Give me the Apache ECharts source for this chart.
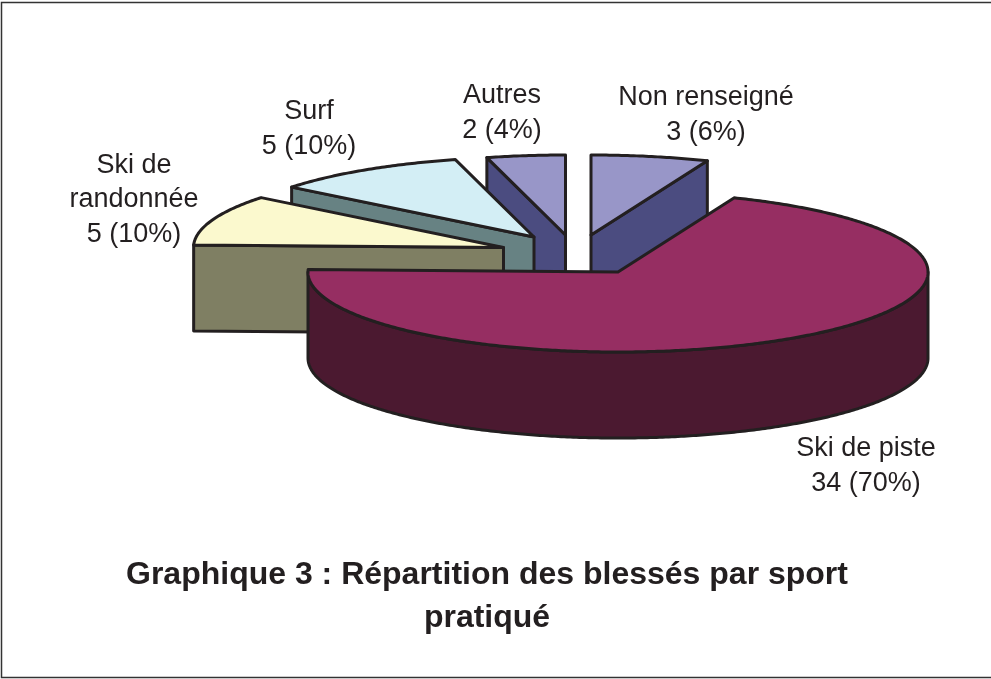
<!DOCTYPE html>
<html>
<head>
<meta charset="utf-8">
<title>Graphique 3</title>
<script src="https://cdn.jsdelivr.net/npm/echarts@6/dist/echarts.min.js"></script>
<style>
  html, body { margin: 0; padding: 0; background: #fff; }
  #chart { width: 991px; height: 679px; }
</style>
</head>
<body>
<div id="chart"></div>
<script>
// Chart values, clockwise from 12 o'clock
const names    = ['Non renseigné', 'Ski de piste', 'Ski de\nrandonnée', 'Surf', 'Autres']
const counts   = [3, 34, 5, 5, 2]
const percents = [6, 70, 10, 10, 4]

// Look of each slice
const topColors  = ['#9896C8', '#962E62', '#FBF9CE', '#D3EEF5', '#9896C8']
const sideColors = ['#4B4C80', '#4B1930', '#7F7F63', '#678283', '#4B4C80']
const centerX    = [591, 618, 503.5, 534, 565.5]
const centerY    = [235, 272, 247.5, 237, 235]
const labelX     = [706, 866, 134, 309, 502]
const labelY     = [115, 466, 200, 129, 113]
const drawOrder  = [0, 4, 3, 2, 1] // painter's order, back to front

const RX = 310, RY = 80, DEPTH = 86
const INK = '#231F20'
const total = counts.reduce((a, b) => a + b, 0)

const startAngle = (idx) => {
  let sum = 0
  for (let i = 0; i < idx; i++) sum += counts[i]
  return sum / total * Math.PI * 2
}

const arcPoints = (cx, cy, from, to, dy) => {
  const pts = []
  const steps = Math.max(2, Math.ceil((to - from) / 0.01))
  for (let i = 0; i <= steps; i++) {
    const a = from + (to - from) * i / steps
    pts.push([cx + RX * Math.sin(a), cy - RY * Math.cos(a) + dy])
  }
  return pts
}

const face = (points, fill, z2) => ({
  type: 'polygon',
  shape: { points },
  z2,
  style: { fill, stroke: INK, lineWidth: 3, lineJoin: 'round' },
})

const cutFace = (cx, cy, a, fill, z2) => {
  const p = [cx + RX * Math.sin(a), cy - RY * Math.cos(a)]
  return face([[cx, cy], p, [p[0], p[1] + DEPTH], [cx, cy + DEPTH]], fill, z2)
}

function renderSlice(params, api) {
  const i = params.dataIndex
  const value = api.value(0)
  const from = startAngle(i)
  const to = from + value / total * Math.PI * 2
  const cx = centerX[i], cy = centerY[i]
  const z = drawOrder.indexOf(i) * 10
  const children = []

  // cut faces that look toward the viewer
  if (Math.sin(from) < 0) children.push(cutFace(cx, cy, from, sideColors[i], z))
  if (Math.sin(to) > 0) children.push(cutFace(cx, cy, to, sideColors[i], z))

  // outer wall, front half of the ellipse only
  const wallFrom = Math.max(from, Math.PI / 2)
  const wallTo = Math.min(to, Math.PI * 1.5)
  if (wallTo > wallFrom) {
    const upper = arcPoints(cx, cy, wallFrom, wallTo, 0)
    const lower = arcPoints(cx, cy, wallFrom, wallTo, DEPTH).reverse()
    children.push(face(upper.concat(lower), sideColors[i], z + 1))
  }

  // top of the slice
  children.push(face([[cx, cy]].concat(arcPoints(cx, cy, from, to, 0)), topColors[i], z + 2))

  return { type: 'group', children }
}

function renderLabel(params, api) {
  const i = params.dataIndex
  return {
    type: 'text',
    x: labelX[i],
    y: labelY[i],
    z2: 100,
    style: {
      text: names[i] + '\n' + api.value(0) + ' (' + percents[i] + '%)',
      fill: INK,
      font: '27px "Liberation Sans", Arial, sans-serif',
      lineHeight: 34.5,
      align: 'center',
      verticalAlign: 'middle',
    },
  }
}

const chart = echarts.init(document.getElementById('chart'), null, { renderer: 'canvas' })

chart.setOption({
  backgroundColor: '#fff',
  animation: false,
  title: {
    text: 'Graphique 3 : Répartition des blessés par sport\npratiqué',
    left: 482,
    top: 549,
    textAlign: 'center',
    textStyle: {
      color: INK,
      fontFamily: '"Liberation Sans", Arial, sans-serif',
      fontSize: 32,
      fontWeight: 'bold',
      lineHeight: 43,
    },
  },
  graphic: [{
    type: 'polyline',
    shape: { points: [[991, 2.5], [1.5, 2.5], [1.5, 677.5], [991, 677.5]] },
    style: { stroke: '#333', fill: null, lineWidth: 1.5 },
    silent: true,
  }],
  series: [
    { type: 'custom', coordinateSystem: 'none', silent: true, data: counts, renderItem: renderSlice },
    { type: 'custom', coordinateSystem: 'none', silent: true, data: counts, renderItem: renderLabel },
  ],
})
</script>
</body>
</html>
